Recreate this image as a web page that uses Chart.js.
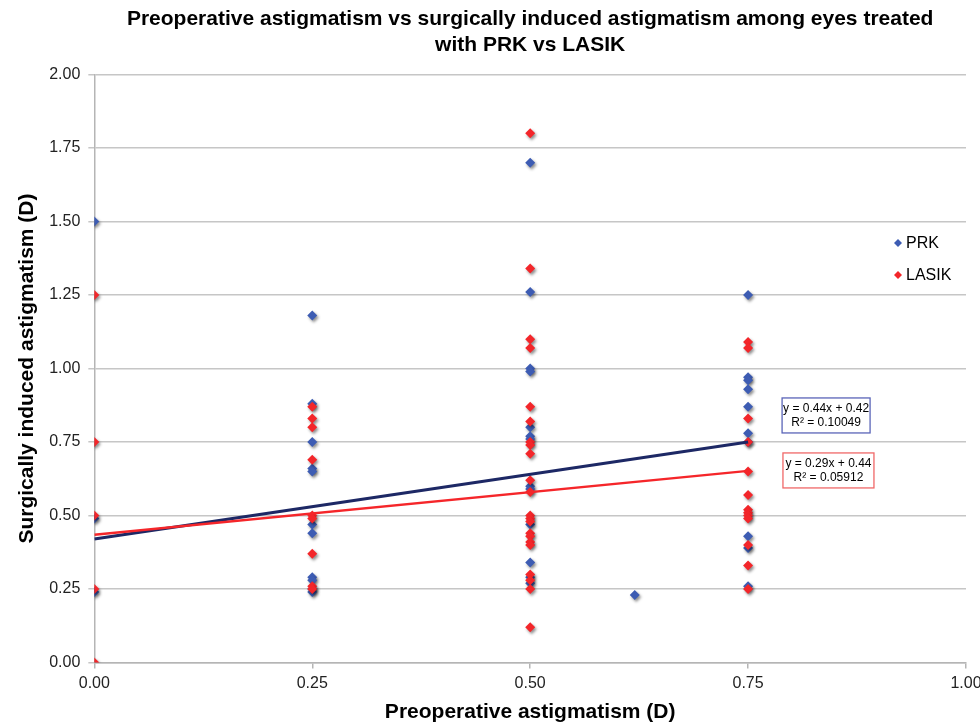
<!DOCTYPE html>
<html>
<head>
<meta charset="utf-8">
<title>Preoperative vs surgically induced astigmatism, PRK vs LASIK</title>
<script src="https://cdn.jsdelivr.net/npm/chart.js"></script>
<style>
  html, body { margin: 0; padding: 0; background: #fff; }
  .chart-container { width: 980px; height: 725px; }
</style>
</head>
<body>
<div class="chart-container"><canvas id="astigChart"></canvas></div>
<script>
// PRK eyes: preoperative astigmatism (x) vs surgically induced astigmatism (y), in D
const prkX = [0, 0, 0,
  0.25, 0.25, 0.25, 0.25, 0.25, 0.25, 0.25, 0.25, 0.25, 0.25, 0.25,
  0.5, 0.5, 0.5, 0.5, 0.5, 0.5, 0.5, 0.5, 0.5, 0.5, 0.5, 0.5, 0.5,
  0.62,
  0.75, 0.75, 0.75, 0.75, 0.75, 0.75, 0.75, 0.75, 0.75, 0.75];
const prkY = [1.50, 0.49, 0.24,
  1.18, 0.88, 0.75, 0.66, 0.65, 0.47, 0.44, 0.29, 0.28, 0.25, 0.24,
  1.70, 1.26, 1.00, 0.99, 0.80, 0.77, 0.76, 0.60, 0.59, 0.47, 0.34, 0.29, 0.27,
  0.23,
  1.25, 0.97, 0.96, 0.93, 0.87, 0.78, 0.75, 0.43, 0.39, 0.26];

// LASIK eyes
const lasikX = [0, 0, 0, 0, 0,
  0.25, 0.25, 0.25, 0.25, 0.25, 0.25, 0.25, 0.25, 0.25,
  0.5, 0.5, 0.5, 0.5, 0.5, 0.5, 0.5, 0.5, 0.5, 0.5, 0.5,
  0.5, 0.5, 0.5, 0.5, 0.5, 0.5, 0.5, 0.5, 0.5, 0.5, 0.5,
  0.75, 0.75, 0.75, 0.75, 0.75, 0.75, 0.75, 0.75, 0.75, 0.75, 0.75, 0.75, 0.75];
const lasikY = [1.25, 0.75, 0.50, 0.25, 0.00,
  0.87, 0.83, 0.80, 0.69, 0.50, 0.49, 0.37, 0.26, 0.25,
  1.80, 1.34, 1.10, 1.07, 0.87, 0.82, 0.75, 0.74, 0.71, 0.62, 0.58,
  0.50, 0.49, 0.48, 0.44, 0.43, 0.41, 0.40, 0.30, 0.28, 0.25, 0.12,
  1.09, 1.07, 0.83, 0.75, 0.65, 0.57, 0.52, 0.51, 0.50, 0.49, 0.40, 0.33, 0.25];

// linear trendlines (end points as drawn)
const trendX = [0, 0.75];
const prkTrendY = [0.42, 0.75];
const lasikTrendY = [0.435, 0.652];
const prkTrendLabel = ['y = 0.44x + 0.42', 'R\u00B2 = 0.10049'];
const lasikTrendLabel = ['y = 0.29x + 0.44', 'R\u00B2 = 0.05912'];

const xTicks = [0, 0.25, 0.5, 0.75, 1];
const titleLines = ['Preoperative astigmatism vs surgically induced astigmatism among eyes treated',
                    'with PRK vs LASIK'];

const BLUE = '#3d5cb3';
const RED = '#f3262a';
const FONT = "'Liberation Sans', Arial, sans-serif";

function toPoints(xs, ys) {
  return xs.map((x, i) => ({ x: x, y: ys[i] }));
}

// soft grey drop shadow under the markers, like the spreadsheet chart
const markerShadow = {
  id: 'markerShadow',
  beforeDatasetDraw(chart, args) {
    if (!args.meta._dataset.shadow) return;
    const ctx = chart.ctx;
    ctx.save();
    ctx.shadowColor = 'rgba(0,0,0,0.45)';
    ctx.shadowBlur = 3;
    ctx.shadowOffsetX = 1.5;
    ctx.shadowOffsetY = 2;
  },
  afterDatasetDraw(chart, args) {
    if (!args.meta._dataset.shadow) return;
    chart.ctx.restore();
  }
};

// legend sitting inside the plot area on the right
const innerLegend = {
  id: 'innerLegend',
  afterDatasetsDraw(chart) {
    const ctx = chart.ctx;
    const sets = chart.data.datasets.filter(d => d.shadow);
    ctx.save();
    ctx.font = '16px ' + FONT;
    ctx.textBaseline = 'middle';
    sets.forEach((d, i) => {
      const y = 243 + i * 32;
      const x = 898;
      ctx.fillStyle = d.backgroundColor;
      ctx.beginPath();
      ctx.moveTo(x, y - 4); ctx.lineTo(x + 4, y); ctx.lineTo(x, y + 4); ctx.lineTo(x - 4, y);
      ctx.closePath();
      ctx.fill();
      ctx.fillStyle = '#000';
      ctx.fillText(d.label, x + 8, y + 1);
    });
    ctx.restore();
  }
};

// boxed trendline equations
const trendBoxes = {
  id: 'trendBoxes',
  afterDatasetsDraw(chart) {
    const ctx = chart.ctx;
    const xs = chart.scales.x, ys = chart.scales.y;
    const boxes = [
      { lines: prkTrendLabel, color: '#5a64b8', x: 0.789, y: 0.90, w: 88 },
      { lines: lasikTrendLabel, color: '#f06868', x: 0.790, y: 0.713, w: 91 }
    ];
    ctx.save();
    ctx.font = '12px ' + FONT;
    ctx.textAlign = 'center';
    ctx.textBaseline = 'middle';
    boxes.forEach(b => {
      const left = xs.getPixelForValue(b.x);
      const top = ys.getPixelForValue(b.y);
      ctx.fillStyle = '#fff';
      ctx.fillRect(left, top, b.w, 35);
      ctx.strokeStyle = b.color;
      ctx.lineWidth = 1.3;
      ctx.strokeRect(left, top, b.w, 35);
      ctx.fillStyle = '#000';
      ctx.fillText(b.lines[0], left + b.w / 2, top + 11);
      ctx.fillText(b.lines[1], left + b.w / 2, top + 25);
    });
    ctx.restore();
  }
};

const ctx = document.getElementById('astigChart').getContext('2d');
new Chart(ctx, {
  type: 'scatter',
  data: {
    datasets: [
      {
        label: 'PRK',
        data: toPoints(prkX, prkY),
        backgroundColor: BLUE,
        borderColor: BLUE,
        pointStyle: 'rectRot',
        pointRadius: 5,
        borderWidth: 0,
        shadow: true,
        order: 4
      },
      {
        label: 'LASIK',
        data: toPoints(lasikX, lasikY),
        backgroundColor: RED,
        borderColor: RED,
        pointStyle: 'rectRot',
        pointRadius: 5,
        borderWidth: 0,
        shadow: true,
        order: 3
      },
      {
        label: 'PRK trend',
        type: 'line',
        data: toPoints(trendX, prkTrendY),
        borderColor: '#1d2865',
        borderWidth: 3,
        pointRadius: 0,
        order: 2
      },
      {
        label: 'LASIK trend',
        type: 'line',
        data: toPoints(trendX, lasikTrendY),
        borderColor: '#f5262a',
        borderWidth: 2.5,
        pointRadius: 0,
        order: 1
      }
    ]
  },
  options: {
    responsive: true,
    maintainAspectRatio: false,
    animation: false,
    layout: { padding: { top: 6, right: 0, left: 11, bottom: 0 } },
    plugins: {
      legend: { display: false },
      tooltip: { enabled: false },
      title: {
        display: true,
        fullSize: false,
        text: titleLines,
        color: '#000',
        font: { family: FONT, size: 21, weight: 'bold', lineHeight: 1.25 },
        padding: { top: 0, bottom: 16 }
      }
    },
    scales: {
      x: {
        type: 'linear',
        min: 0,
        max: 1,
        afterBuildTicks(axis) { axis.ticks = xTicks.map(v => ({ value: v })); },
        // let the last label run to the canvas edge, as in the original
        afterFit(axis) { axis.paddingRight = 14; },
        ticks: {
          color: '#222',
          font: { family: FONT, size: 16 },
          padding: 5,
          callback: v => Number(v).toFixed(2)
        },
        grid: { drawOnChartArea: false, drawTicks: true, tickLength: 6, color: '#b5b5b5', lineWidth: 1.5 },
        border: { display: true, color: '#b5b5b5', width: 1.5 },
        title: {
          display: true,
          text: 'Preoperative astigmatism (D)',
          color: '#000',
          font: { family: FONT, size: 21, weight: 'bold' },
          padding: { top: 2, bottom: 0 }
        }
      },
      y: {
        min: 0,
        max: 2,
        ticks: {
          stepSize: 0.25,
          color: '#222',
          font: { family: FONT, size: 16 },
          padding: 8,
          callback: v => Number(v).toFixed(2)
        },
        grid: { color: '#c6c6c6', lineWidth: 1.5, tickLength: 6 },
        border: { display: true, color: '#b5b5b5', width: 1.5 },
        title: {
          display: true,
          text: 'Surgically induced astigmatism (D)',
          color: '#000',
          font: { family: FONT, size: 21, weight: 'bold' },
          padding: { top: 4, bottom: 1 }
        }
      }
    }
  },
  plugins: [markerShadow, innerLegend, trendBoxes]
});
</script>
</body>
</html>
